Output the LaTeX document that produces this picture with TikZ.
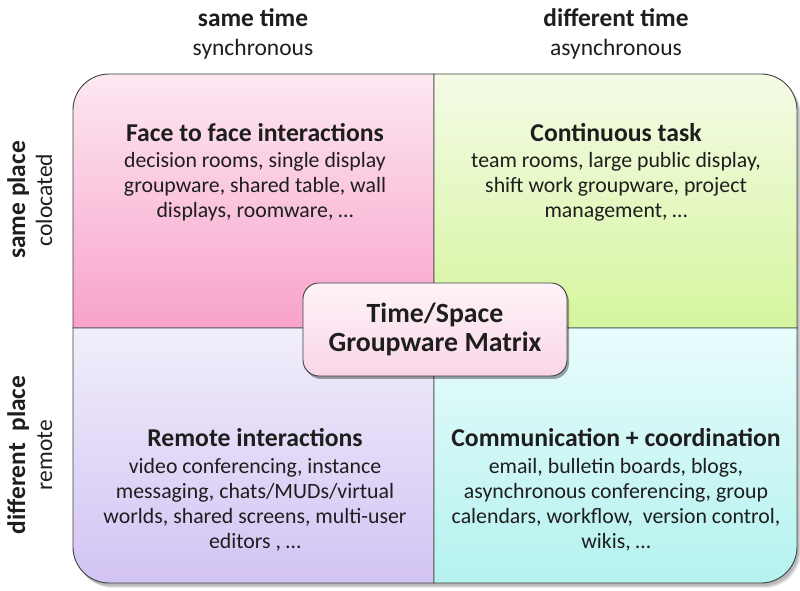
\documentclass[tikz,border=0pt]{standalone}
\usepackage{fontspec}
\setmainfont{Carlito}
\usetikzlibrary{shadows}
\definecolor{txt}{HTML}{1E1E1E}
\definecolor{edge}{HTML}{404040}
\definecolor{tltop}{HTML}{FDE8F2}
\definecolor{tlbot}{HTML}{F8A2C9}
\definecolor{trtop}{HTML}{F4FBE6}
\definecolor{trbot}{HTML}{D6F59E}
\definecolor{bltop}{HTML}{F1EEFB}
\definecolor{blbot}{HTML}{D2C3F4}
\definecolor{brtop}{HTML}{E8FCFC}
\definecolor{brbot}{HTML}{B4F2EE}
\definecolor{cttop}{HTML}{FEF3F8}
\definecolor{ctbot}{HTML}{F9D6E7}
\tikzset{
  quad/.style={draw=edge, line width=0.9pt},
  headbold/.style={text=txt, anchor=base, font=\bfseries\fontsize{25.4}{28}\selectfont},
  headsub/.style={text=txt, anchor=base, font=\fontsize{23.5}{26}\selectfont},
  qtitle/.style={text=txt, anchor=base, font=\bfseries\fontsize{25.7}{28}\selectfont},
  qbody/.style={text=txt, align=center, font=\fontsize{21.8}{25}\selectfont},
  sidebold/.style={text=txt, anchor=base, rotate=90, font=\bfseries\fontsize{25.4}{28}\selectfont},
  sidesub/.style={text=txt, anchor=base, rotate=90, font=\fontsize{23.5}{26}\selectfont},
  centerbox/.style={draw=edge, line width=0.9pt, rounded corners=16pt,
    top color=cttop, bottom color=ctbot, minimum width=264pt, minimum height=93pt,
    align=center, text=txt, font=\bfseries\fontsize{27.8}{29.5}\selectfont,
    drop shadow={shadow xshift=2pt, shadow yshift=-3pt, opacity=0.35, fill=black}}
}
\begin{document}
\begin{tikzpicture}[x=1pt,y=1pt]
\useasboundingbox (0,0) rectangle (800,591);
\fill[white] (0,0) rectangle (800,591);
% shadow of matrix
\foreach \s/\o in {5/0.08,4/0.10,3/0.12} {
  \fill[black, opacity=\o, shift={(\s-1,-\s)}]
    (73,44) -- (73,481) arc[start angle=180,end angle=90,radius=36]
    -- (761,517) arc[start angle=90,end angle=0,radius=36]
    -- (797,44) arc[start angle=0,end angle=-90,radius=36]
    -- (109,8) arc[start angle=270,end angle=180,radius=36] -- cycle;
}
% quadrants
\draw[quad, top color=tltop, bottom color=tlbot]
  (434,263) -- (73,263) -- (73,481) arc[start angle=180,end angle=90,radius=36] -- (434,517) -- cycle;
\draw[quad, top color=trtop, bottom color=trbot]
  (434,263) -- (434,517) -- (761,517) arc[start angle=90,end angle=0,radius=36] -- (797,263) -- cycle;
\draw[quad, top color=bltop, bottom color=blbot]
  (434,263) -- (73,263) -- (73,44) arc[start angle=180,end angle=270,radius=36] -- (434,8) -- cycle;
\draw[quad, top color=brtop, bottom color=brbot]
  (434,263) -- (797,263) -- (797,44) arc[start angle=0,end angle=-90,radius=36] -- (434,8) -- cycle;
% headers
\node[headbold] (h1) at (253,564) {same time};
\node[headsub]  (h1s) at (253,535) {synchronous};
\node[headbold] (h2) at (616,564) {different time};
\node[headsub]  (h2s) at (616,535) {asynchronous};
% side labels
\node[sidebold] (s1) at (25,391) {same place};
\node[sidesub]  (s1s) at (52,391) {colocated};
\node[sidebold] (s2) at (25,136) {different\ \ place};
\node[sidesub]  (s2s) at (52,136) {remote};
% quadrant texts
\node[qtitle] (t1) at (255,449) {Face to face interactions};
\node[qbody] (b1) at (255,404) {decision rooms, single display\\groupware, shared table, wall\\displays, roomware, \dots};
\node[qtitle] (t2) at (616,449) {Continuous task};
\node[qbody] (b2) at (616,404) {team rooms, large public display,\\shift work groupware, project\\management, \dots};
\node[qtitle] (t3) at (255,144) {Remote interactions};
\node[qbody] (b3) at (255,86.5) {video conferencing, instance\\messaging, chats/MUDs/virtual\\worlds, shared screens, multi-user\\editors , \dots};
\node[qtitle] (t4) at (616,144) {Communication + coordination};
\node[qbody] (b4) at (616,86.5) {email, bulletin boards, blogs,\\asynchronous conferencing, group\\calendars, workflow,\ \ version control,\\wikis, \dots};
% centre box
\node[centerbox] (m) at (435,261.5) {Time/Space\\Groupware Matrix};
\end{tikzpicture}
\end{document}
